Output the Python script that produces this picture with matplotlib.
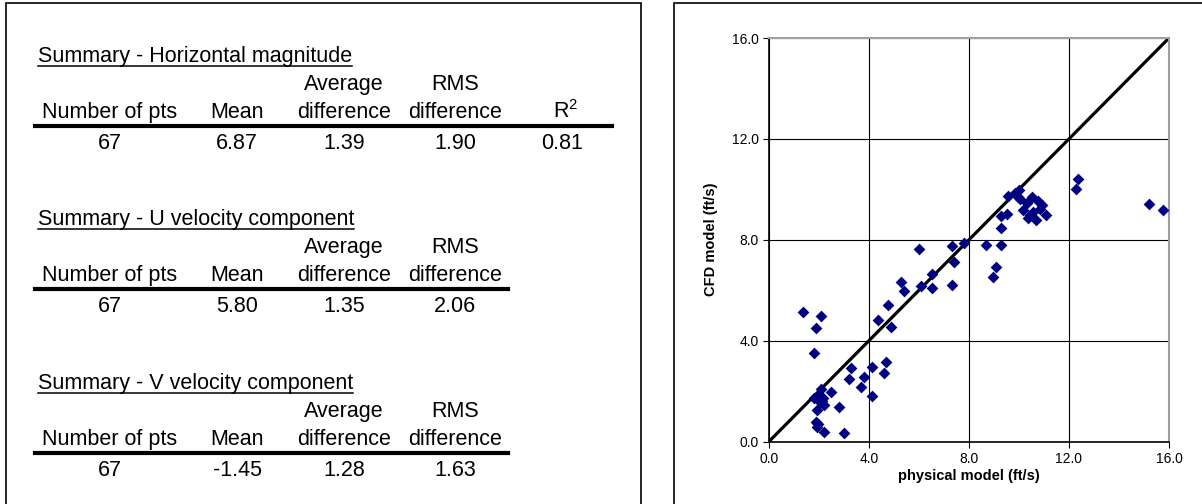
import matplotlib
matplotlib.use("Agg")
import matplotlib.pyplot as plt
from matplotlib.patches import Rectangle
from matplotlib.lines import Line2D

plt.rcParams['font.family'] = ['Liberation Sans', 'DejaVu Sans']
plt.rcParams['mathtext.fontset'] = 'custom'
plt.rcParams['mathtext.rm'] = 'Liberation Sans'

# summary tables
titles = ["Summary - Horizontal magnitude",
          "Summary - U velocity component",
          "Summary - V velocity component"]
n_pts = ["67", "67", "67"]
means = ["6.87", "5.80", "-1.45"]
avg_diff = ["1.39", "1.35", "1.28"]
rms_diff = ["1.90", "2.06", "1.63"]
r2 = ["0.81", None, None]

# scatter: physical model vs CFD model (ft/s)
physical = [1.37, 2.08, 1.88, 1.80, 4.37, 4.77, 4.88, 4.68, 4.60, 4.11,
            3.29, 3.19, 3.80, 3.68, 4.11, 2.07, 2.47, 1.81, 2.17, 2.21,
            1.91, 2.79, 1.88, 1.93, 2.21, 2.99, 2.04,
            5.28, 5.39, 5.99, 6.08, 6.51, 6.51, 7.31, 7.40, 7.32, 7.80,
            8.67, 9.29, 9.07, 8.97, 9.29, 9.29, 9.51, 9.57, 10.00, 9.97,
            10.04, 10.51, 10.77, 10.17, 10.37, 10.68, 10.91, 11.08, 10.57,
            12.37, 12.29, 15.19, 15.77,
            10.30, 10.85, 10.45, 1.95, 2.00, 2.12, 9.85]
cfd = [5.12, 4.99, 4.49, 3.52, 4.83, 5.41, 4.53, 3.17, 2.73, 2.95,
       2.91, 2.46, 2.54, 2.15, 1.82, 2.09, 1.95, 1.74, 1.72, 1.45,
       1.26, 1.36, 0.79, 0.59, 0.36, 0.32, 1.58,
       6.33, 5.98, 7.63, 6.17, 6.66, 6.09, 7.74, 7.12, 6.22, 7.86,
       7.78, 7.79, 6.91, 6.52, 8.45, 8.93, 9.01, 9.74, 9.97, 9.71,
       9.61, 9.71, 9.55, 9.18, 8.85, 8.78, 9.38, 8.98, 9.11,
       10.39, 10.02, 9.41, 9.16,
       9.45, 9.20, 9.00, 0.70, 1.85, 1.60, 9.85]
ticks = [0, 4, 8, 12, 16]

W, H = 1202, 504


def px(x, y):
    return x / W, 1 - y / H


fig = plt.figure(figsize=(W / 100, H / 100), dpi=100)

# panel frames
fig.patches.append(Rectangle(px(6, 510), 635 / W, 507 / H, transform=fig.transFigure,
                             fill=False, edgecolor='black', lw=1.2))
fig.patches.append(Rectangle(px(674, 510), 540 / W, 507 / H, transform=fig.transFigure,
                             fill=False, edgecolor='black', lw=1.2))

# table layout (L = y of the thick rule in each block)
rules = [126, 289, 453]
line_ends = [612, 508, 508]
col_x = [110, 237, 344, 455, 566]
fs = 15.5
kw = dict(fontsize=fs, va='baseline', ha='center')
title_objs = []
for i in range(3):
    L = rules[i]
    title_objs.append(fig.text(*px(38, L - 64), titles[i], fontsize=fs, va='baseline', ha='left'))
    fig.text(*px(col_x[2], L - 36), "Average", **kw)
    fig.text(*px(col_x[3], L - 36), "RMS", **kw)
    fig.text(*px(col_x[0], L - 8), "Number of pts", **kw)
    fig.text(*px(col_x[1], L - 8), "Mean", **kw)
    fig.text(*px(col_x[2], L - 8), "difference", **kw)
    fig.text(*px(col_x[3], L - 8), "difference", **kw)
    vals = [n_pts[i], means[i], avg_diff[i], rms_diff[i]]
    if r2[i] is not None:
        fig.text(*px(col_x[4], L - 8), "R$^2$", **kw)
        vals.append(r2[i])
    fig.add_artist(Line2D([35 / W, line_ends[i] / W], [1 - L / H] * 2, color='black', lw=3))
    for x, v in zip(col_x, vals):
        fig.text(*px(x - 4 if v == "0.81" else x, L + 23), v, **kw)

# underline titles
fig.canvas.draw()
r = fig.canvas.get_renderer()
for t in title_objs:
    bb = t.get_window_extent(r)
    y = (bb.y0 + 1) / H
    fig.add_artist(Line2D([bb.x0 / W, bb.x1 / W], [y, y], color='black', lw=1.1))

# scatter plot
ax = fig.add_axes([769 / W, 1 - 441.5 / H, 400 / W, 403.5 / H])
ax.grid(True, color='black', lw=0.8)
ax.set_axisbelow(True)
ax.plot([0, 16], [0, 16], color='black', lw=2.3, zorder=2)
ax.scatter(physical, cfd, marker='D', s=36, color='#000080', zorder=3, linewidths=0)
ax.set_xlim(0, 16)
ax.set_ylim(0, 16)
ax.set_xticks(ticks)
ax.set_yticks(ticks)
ax.set_xticklabels([f"{v:.1f}" for v in ticks])
ax.set_yticklabels([f"{v:.1f}" for v in ticks])
ax.tick_params(direction='out', length=4, width=0.8, labelsize=10, color='black')
for s in ['left', 'bottom']:
    ax.spines[s].set_color('black')
    ax.spines[s].set_linewidth(1.2)
for s in ['top', 'right']:
    ax.spines[s].set_color('#a0a0a0')
    ax.spines[s].set_linewidth(1.5)
ax.set_xlabel("physical model (ft/s)", fontsize=10.5, fontweight='bold', labelpad=2)
ax.set_ylabel("CFD model (ft/s)", fontsize=10.5, fontweight='bold', labelpad=10)

fig.savefig("out.png", dpi=100)
